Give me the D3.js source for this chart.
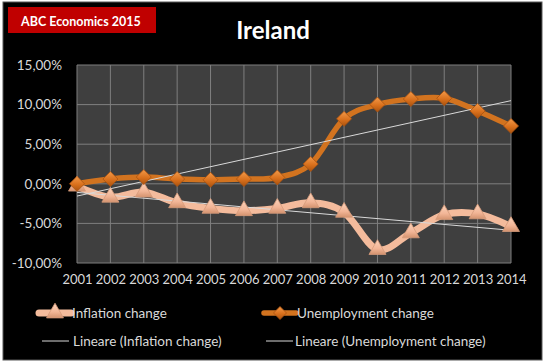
<!DOCTYPE html>
<html>
<head>
<meta charset="utf-8">
<script src="https://cdn.jsdelivr.net/npm/d3@7"></script>
<style>
  html, body { margin: 0; padding: 0; background: #ffffff; }
  svg { display: block; }
  text { font-family: Lato, "Open Sans", sans-serif; }
</style>
</head>
<body>
<svg id="chart" width="547" height="364"></svg>
<script>
const years = ["2001","2002","2003","2004","2005","2006","2007","2008","2009","2010","2011","2012","2013","2014"];
const inflationChange = [-0.3, -1.7, -1.05, -2.4, -3.1, -3.4, -3.1, -2.4, -3.6, -8.3, -6.2, -3.9, -3.8, -5.4];
const unemploymentChange = [0.0, 0.6, 0.85, 0.6, 0.5, 0.6, 0.8, 2.5, 8.2, 10.0, 10.7, 10.8, 9.2, 7.3];
const yTicks = [-10, -5, 0, 5, 10, 15];
const chartTitle = "Ireland";
const badgeText = "ABC Economics 2015";
const legendLabels = ["Inflation change", "Unemployment change", "Lineare (Inflation change)", "Lineare (Unemployment change)"];

const svg = d3.select("#chart");
const defs = svg.append("defs");

const gDia = defs.append("linearGradient").attr("id","gDia").attr("x1",0).attr("y1",0).attr("x2",0).attr("y2",1);
gDia.append("stop").attr("offset","0%").attr("stop-color","#f39a4a");
gDia.append("stop").attr("offset","55%").attr("stop-color","#d9701c");
gDia.append("stop").attr("offset","100%").attr("stop-color","#a9520f");
const gTri = defs.append("linearGradient").attr("id","gTri").attr("x1",0).attr("y1",0).attr("x2",0).attr("y2",1);
gTri.append("stop").attr("offset","0%").attr("stop-color","#fbd3bb");
gTri.append("stop").attr("offset","60%").attr("stop-color","#f2b596");
gTri.append("stop").attr("offset","100%").attr("stop-color","#d4936f");

svg.append("rect").attr("x",3).attr("y",2).attr("width",539).attr("height",358)
  .attr("fill","#000000").attr("stroke","#595959").attr("stroke-width",1);

svg.append("rect").attr("x",8).attr("y",7).attr("width",148).attr("height",26).attr("fill","#c00000");
svg.append("text").attr("x",21).attr("y",25.5).attr("fill","#ffffff")
  .attr("font-size",12.5).attr("font-weight","bold").text(badgeText);

svg.append("text").attr("x",273).attr("y",39).attr("text-anchor","middle")
  .attr("fill","#ffffff").attr("font-size",24).attr("font-weight","bold").text(chartTitle);

const plot = {left: 77, right: 511, top: 65, bottom: 263};
const x = d3.scalePoint().domain(years).range([plot.left, plot.right]);
const y = d3.scaleLinear().domain([-10, 15]).range([plot.bottom, plot.top]);

svg.append("rect").attr("x",plot.left).attr("y",plot.top)
  .attr("width",plot.right-plot.left).attr("height",plot.bottom-plot.top)
  .attr("fill","#3f3f3f");

svg.append("g").selectAll("line").data(yTicks).join("line")
  .attr("x1",plot.left).attr("x2",plot.right)
  .attr("y1",d=>y(d)).attr("y2",d=>y(d))
  .attr("stroke","#7f7f7f").attr("stroke-width",1);
svg.append("g").selectAll("line").data(years).join("line")
  .attr("x1",d=>x(d)).attr("x2",d=>x(d))
  .attr("y1",plot.top).attr("y2",plot.bottom)
  .attr("stroke","#7f7f7f").attr("stroke-width",1);

const fmt = d => d.toFixed(2).replace(".", ",") + "%";
const yAxis = svg.append("g").attr("transform",`translate(${plot.left},0)`)
  .call(d3.axisLeft(y).tickValues(yTicks).tickFormat(fmt).tickSize(0).tickPadding(15));
yAxis.select(".domain").remove();
yAxis.selectAll("text").attr("fill","#d9d9d9").attr("font-size",13.5)
  .attr("font-family","Lato, 'Open Sans', sans-serif");

const xAxis = svg.append("g").attr("transform",`translate(0,${plot.bottom})`)
  .call(d3.axisBottom(x).tickSize(0).tickPadding(12));
xAxis.select(".domain").remove();
xAxis.selectAll("text").attr("fill","#d9d9d9").attr("font-size",13)
  .attr("font-family","Lato, 'Open Sans', sans-serif");

const line = d3.line().x((d,i)=>x(years[i])).y(d=>y(d)).curve(d3.curveCardinal.tension(0));
svg.append("path").datum(inflationChange).attr("d",line)
  .attr("fill","none").attr("stroke","#f4bb9c").attr("stroke-width",7).attr("stroke-linecap","round");
svg.append("path").datum(unemploymentChange).attr("d",line)
  .attr("fill","none").attr("stroke","#d2731f").attr("stroke-width",5.5).attr("stroke-linecap","round");

function regress(vals){
  const n = vals.length; const xs = vals.map((v,i)=>i);
  const mx = d3.mean(xs), my = d3.mean(vals);
  const b = d3.sum(xs.map((xi,i)=>(xi-mx)*(vals[i]-my))) / d3.sum(xs.map(xi=>(xi-mx)**2));
  const a = my - b*mx;
  return [a, a + b*(n-1)];
}
[inflationChange, unemploymentChange].forEach(vals=>{
  const [a0,a1] = regress(vals);
  svg.append("line").attr("x1",x(years[0])).attr("x2",x(years[years.length-1]))
    .attr("y1",y(a0)).attr("y2",y(a1))
    .attr("stroke","#d9d9d9").attr("stroke-width",1);
});

const tri = d3.symbol().type(d3.symbolTriangle).size(125);
const dia = (cx,cy,r)=>`M${cx},${cy-r}L${cx+r},${cy}L${cx},${cy+r}L${cx-r},${cy}Z`;
svg.append("g").selectAll("path").data(inflationChange).join("path")
  .attr("transform",(d,i)=>`translate(${x(years[i])},${y(d)})`)
  .attr("d",tri).attr("fill","url(#gTri)").attr("stroke","#d59a7a").attr("stroke-width",0.8);
svg.append("g").selectAll("path").data(unemploymentChange).join("path")
  .attr("d",(d,i)=>dia(x(years[i]), y(d), 7.5))
  .attr("fill","url(#gDia)").attr("stroke","#a9520f").attr("stroke-width",0.8);

const lg = svg.append("g");
lg.append("line").attr("x1",39).attr("x2",71).attr("y1",313).attr("y2",313)
  .attr("stroke","#f4bb9c").attr("stroke-width",7).attr("stroke-linecap","round");
lg.append("path").attr("transform","translate(55,313)").attr("d",tri)
  .attr("fill","url(#gTri)").attr("stroke","#d59a7a").attr("stroke-width",0.8);
lg.append("text").attr("x",72).attr("y",318).attr("fill","#d9d9d9").attr("font-size",13.5).text(legendLabels[0]);
lg.append("line").attr("x1",264).attr("x2",296).attr("y1",313).attr("y2",313)
  .attr("stroke","#d2731f").attr("stroke-width",5.5).attr("stroke-linecap","round");
lg.append("path").attr("d",dia(280,313,6.5)).attr("fill","url(#gDia)").attr("stroke","#a9520f").attr("stroke-width",0.8);
lg.append("text").attr("x",297).attr("y",318).attr("fill","#d9d9d9").attr("font-size",13.5).text(legendLabels[1]);
lg.append("line").attr("x1",42).attr("x2",69).attr("y1",341).attr("y2",341).attr("stroke","#d9d9d9").attr("stroke-width",1);
lg.append("text").attr("x",73).attr("y",346).attr("fill","#d9d9d9").attr("font-size",13.5).text(legendLabels[2]);
lg.append("line").attr("x1",266).attr("x2",293).attr("y1",341).attr("y2",341).attr("stroke","#d9d9d9").attr("stroke-width",1);
lg.append("text").attr("x",295).attr("y",346).attr("fill","#d9d9d9").attr("font-size",13.5).text(legendLabels[3]);
</script>
</body>
</html>
